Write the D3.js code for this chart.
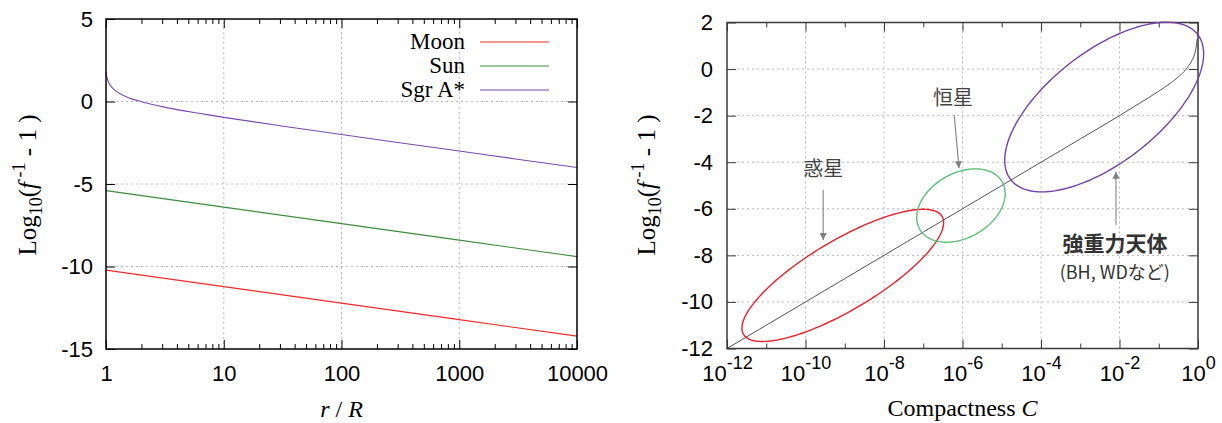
<!DOCTYPE html>
<html>
<head>
<meta charset="utf-8">
<script src="https://d3js.org/d3.v7.min.js"></script>
<style>
  body { margin: 0; background: #fff; }
  svg { display: block; }
</style>
</head>
<body>
<script>
// left panel : log10(f^-1 - 1) vs r/R
const moonR = [1, 10, 100, 1000, 10000];
const moonVal = [-10.22, -11.22, -12.22, -13.22, -14.22];
const sunR = [1, 10, 100, 1000, 10000];
const sunVal = [-5.4, -6.4, -7.4, -8.4, -9.4];
const sgrR = [1, 1.01, 1.02, 1.05, 1.1, 1.2, 1.5, 2, 3, 5, 10, 30, 100, 300, 1000, 3000, 10000];
const sgrVal = [1.8, 1.57, 1.44, 1.17, 0.93, 0.66, 0.28, -0.01, -0.31, -0.61, -0.96, -1.47, -2.0, -2.48, -3.0, -3.48, -4.0];
const seriesNames = ['Moon', 'Sun', 'Sgr A*'];
const leftYTicks = [5, 0, -5, -10, -15];
const leftXTicks = [1, 10, 100, 1000, 10000];

// right panel : log10(f^-1 - 1) vs compactness
const compactness = [1e-12, 1e-11, 1e-10, 1e-9, 1e-8, 1e-7, 1e-6, 1e-5, 1e-4, 1e-3, 1e-2, 0.03, 0.1, 0.2, 0.3, 0.5, 0.7, 0.8, 0.9, 0.95];
const compactVal = [-12, -11, -10, -9, -8, -7, -6, -5, -4, -3, -2, -1.5, -0.95, -0.6, -0.37, 0, 0.37, 0.6, 0.95, 1.28];
const rightYTicks = [2, 0, -2, -4, -6, -8, -10, -12];
const rightXExp = [-12, -10, -8, -6, -4, -2, 0];
const groupNames = ['惑星', '恒星', '強重力天体'];
const groupCenterLogC = [-9.05, -6.04, -2.39];
const groupCenterVal = [-8.86, -5.86, -1.63];
const groupMajor = [[2.53, 2.53], [1.05, 1.02], [2.38, 3.12]];
const groupMinor = [[-0.45, 1.29], [-0.41, 1.20], [-0.87, 1.88]];

const W = 1222, H = 423;
const sans = '"Liberation Sans", Arial, Helvetica, sans-serif';
const serif = '"Liberation Serif", "Times New Roman", serif';
const cjk = '"Noto Sans CJK JP", "Noto Sans", sans-serif';

const svg = d3.select('body').append('svg').attr('width', W).attr('height', H);
svg.append('rect').attr('width', W).attr('height', H).attr('fill', '#fff');

const defs = svg.append('defs');
defs.append('marker')
  .attr('id', 'arr')
  .attr('viewBox', '0 0 10 10')
  .attr('refX', 10).attr('refY', 5)
  .attr('markerWidth', 9).attr('markerHeight', 7)
  .attr('markerUnits', 'userSpaceOnUse')
  .attr('orient', 'auto')
  .append('path').attr('d', 'M0,0 L10,5 L0,10 Z').attr('fill', '#808080');

function minorLog(lo, hi) {
  const out = [];
  for (let e = lo; e < hi; e++) for (let k = 2; k <= 9; k++) out.push(k * Math.pow(10, e));
  return out;
}

function yLabel(g, x, y) {
  const t = g.append('text')
    .attr('transform', `translate(${x},${y}) rotate(-90)`)
    .attr('text-anchor', 'middle')
    .attr('font-family', serif).attr('font-size', 25).attr('fill', '#000');
  t.append('tspan').text('Log');
  t.append('tspan').attr('font-size', 18).attr('dy', 6).text('10');
  t.append('tspan').attr('dy', -6).text('(');
  t.append('tspan').attr('font-style', 'italic').text('f');
  t.append('tspan').attr('font-size', 18).attr('dy', -11).text(' -1');
  t.append('tspan').attr('dy', 11).text(' - 1 )');
}

function styleAxis(g, color) {
  g.select('.domain').remove();
  g.attr('font-family', sans).attr('font-size', 22).attr('color', color);
  g.selectAll('.tick line').attr('stroke-width', 1);
  g.selectAll('.tick text').attr('fill', '#000');
}

// ---------------- left panel ----------------
const xL = d3.scaleLog().domain([1, 10000]).range([106, 577]);
const yL = d3.scaleLinear().domain([-15, 5]).range([349, 19]);
const left = svg.append('g');

left.append('g').selectAll('line')
  .data(leftXTicks.slice(1, -1)).join('line')
  .attr('x1', d => xL(d)).attr('x2', d => xL(d))
  .attr('y1', yL(-15)).attr('y2', yL(5));
left.append('g').selectAll('line')
  .data(leftYTicks.slice(1, -1)).join('line')
  .attr('x1', xL(1)).attr('x2', xL(10000))
  .attr('y1', d => yL(d)).attr('y2', d => yL(d));
left.selectAll('line').attr('stroke', '#b8b8b8').attr('stroke-dasharray', '2,3');

left.append('g').attr('transform', `translate(0,${yL(-15)})`)
  .call(d3.axisBottom(xL).tickValues(leftXTicks).tickFormat(d => String(d)).tickSizeInner(-9).tickSizeOuter(0).tickPadding(16))
  .call(g => styleAxis(g, '#000'));
left.append('g').attr('transform', `translate(0,${yL(-15)})`)
  .call(d3.axisBottom(xL).tickValues(minorLog(0, 4)).tickFormat('').tickSizeInner(-5).tickSizeOuter(0))
  .call(g => styleAxis(g, '#000'));
left.append('g').attr('transform', `translate(0,${yL(5)})`)
  .call(d3.axisTop(xL).tickValues(leftXTicks).tickFormat('').tickSizeInner(-9).tickSizeOuter(0))
  .call(g => styleAxis(g, '#000'));
left.append('g').attr('transform', `translate(0,${yL(5)})`)
  .call(d3.axisTop(xL).tickValues(minorLog(0, 4)).tickFormat('').tickSizeInner(-5).tickSizeOuter(0))
  .call(g => styleAxis(g, '#000'));
left.append('g').attr('transform', `translate(${xL(1)},0)`)
  .call(d3.axisLeft(yL).tickValues(leftYTicks).tickFormat(d => String(d)).tickSizeInner(-9).tickSizeOuter(0).tickPadding(13))
  .call(g => styleAxis(g, '#000'));
left.append('g').attr('transform', `translate(${xL(10000)},0)`)
  .call(d3.axisRight(yL).tickValues(leftYTicks).tickFormat('').tickSizeInner(-9).tickSizeOuter(0))
  .call(g => styleAxis(g, '#000'));

const leftSeries = [
  { name: seriesNames[0], xs: moonR, ys: moonVal, color: '#ee2a2a' },
  { name: seriesNames[1], xs: sunR, ys: sunVal, color: '#3e8c3e' },
  { name: seriesNames[2], xs: sgrR, ys: sgrVal, color: '#7b48b0' }
];
const lineL = d3.line().x(d => xL(d[0])).y(d => yL(d[1])).curve(d3.curveMonotoneX);
left.append('g').selectAll('path')
  .data(leftSeries).join('path')
  .attr('d', s => lineL(s.xs.map((x, i) => [x, s.ys[i]])))
  .attr('fill', 'none').attr('stroke', s => s.color).attr('stroke-width', 1.1);

left.append('rect')
  .attr('x', xL(1)).attr('y', yL(5))
  .attr('width', xL(10000) - xL(1)).attr('height', yL(-15) - yL(5))
  .attr('fill', 'none').attr('stroke', '#000').attr('stroke-width', 1.5);

const legend = left.append('g').selectAll('g')
  .data(leftSeries).join('g')
  .attr('transform', (d, i) => `translate(0,${42 + i * 24})`);
legend.append('text')
  .attr('x', 465).attr('y', 7).attr('text-anchor', 'end')
  .attr('font-family', serif).attr('font-size', 23).attr('fill', '#000')
  .text(d => d.name);
legend.append('line')
  .attr('x1', 480).attr('x2', 549).attr('y1', 0).attr('y2', 0)
  .attr('stroke', d => d.color).attr('stroke-width', 1.1);

yLabel(left, 36, 185);
const xlabL = left.append('text')
  .attr('x', (xL(1) + xL(10000)) / 2).attr('y', 417).attr('text-anchor', 'middle')
  .attr('font-family', serif).attr('font-size', 24).attr('fill', '#000');
xlabL.append('tspan').attr('font-style', 'italic').text('r');
xlabL.append('tspan').text(' / ');
xlabL.append('tspan').attr('font-style', 'italic').text('R');

// ---------------- right panel ----------------
const xR = d3.scaleLog().domain([1e-12, 1]).range([727, 1198]);
const yR = d3.scaleLinear().domain([-12, 2]).range([348.5, 22.5]);
const right = svg.append('g');
const frameR = '#3a3a3a';
const decade = e => +`1e${e}`;

const gridR = right.append('g');
gridR.selectAll('line.gx')
  .data(rightXExp.slice(1, -1)).join('line').attr('class', 'gx')
  .attr('x1', d => xR(decade(d))).attr('x2', d => xR(decade(d)))
  .attr('y1', yR(-12)).attr('y2', yR(2));
gridR.selectAll('line.gy')
  .data(rightYTicks.slice(1, -1)).join('line').attr('class', 'gy')
  .attr('x1', xR(1e-12)).attr('x2', xR(1))
  .attr('y1', d => yR(d)).attr('y2', d => yR(d));
gridR.selectAll('line').attr('stroke', '#b8b8b8').attr('stroke-dasharray', '2,3');

const oddDecades = d3.range(-11, 0, 2).map(decade);

const xAxisR = right.append('g').attr('transform', `translate(0,${yR(-12)})`)
  .call(d3.axisBottom(xR).tickValues(rightXExp.map(decade)).tickFormat(() => '').tickSizeInner(-9).tickSizeOuter(0).tickPadding(17))
  .call(g => styleAxis(g, frameR));
xAxisR.selectAll('.tick text').each(function (d) {
  const t = d3.select(this);
  t.append('tspan').text('10');
  t.append('tspan').attr('font-size', 18).attr('dy', -12).text(Math.round(Math.log10(d)));
});
right.append('g').attr('transform', `translate(0,${yR(-12)})`)
  .call(d3.axisBottom(xR).tickValues(oddDecades).tickFormat('').tickSizeInner(-5).tickSizeOuter(0))
  .call(g => styleAxis(g, frameR));
right.append('g').attr('transform', `translate(0,${yR(2)})`)
  .call(d3.axisTop(xR).tickValues(rightXExp.map(decade)).tickFormat('').tickSizeInner(-9).tickSizeOuter(0))
  .call(g => styleAxis(g, frameR));
right.append('g').attr('transform', `translate(0,${yR(2)})`)
  .call(d3.axisTop(xR).tickValues(oddDecades).tickFormat('').tickSizeInner(-5).tickSizeOuter(0))
  .call(g => styleAxis(g, frameR));
right.append('g').attr('transform', `translate(${xR(1e-12)},0)`)
  .call(d3.axisLeft(yR).tickValues(rightYTicks).tickFormat(d => String(d)).tickSizeInner(-9).tickSizeOuter(0).tickPadding(14))
  .call(g => styleAxis(g, frameR));
right.append('g').attr('transform', `translate(${xR(1)},0)`)
  .call(d3.axisRight(yR).tickValues(rightYTicks).tickFormat('').tickSizeInner(-9).tickSizeOuter(0))
  .call(g => styleAxis(g, frameR));

const lineR = d3.line().x(d => xR(d[0])).y(d => yR(d[1])).curve(d3.curveMonotoneX);
right.append('path')
  .attr('d', lineR(compactness.map((c, i) => [c, compactVal[i]])))
  .attr('fill', 'none').attr('stroke', '#555').attr('stroke-width', 1);

right.append('rect')
  .attr('x', xR(1e-12)).attr('y', yR(2))
  .attr('width', xR(1) - xR(1e-12)).attr('height', yR(-12) - yR(2))
  .attr('fill', 'none').attr('stroke', frameR).attr('stroke-width', 1.5);

// ellipses, built in data space (log10 C, value)
const ellColors = ['#e8202a', '#5fbf77', '#7442a8'];
const ellipse = i => {
  const pts = d3.range(0, 2 * Math.PI + 0.001, Math.PI / 90).map(t => {
    const lc = groupCenterLogC[i] + groupMajor[i][0] * Math.cos(t) + groupMinor[i][0] * Math.sin(t);
    const v = groupCenterVal[i] + groupMajor[i][1] * Math.cos(t) + groupMinor[i][1] * Math.sin(t);
    return [xR(Math.pow(10, lc)), yR(v)];
  });
  return d3.line()(pts) + 'Z';
};
right.append('g').selectAll('path')
  .data(groupNames).join('path')
  .attr('d', (d, i) => ellipse(i))
  .attr('fill', 'none').attr('stroke', (d, i) => ellColors[i]).attr('stroke-width', 1.4);

// annotations (positions in data coords)
const pt = (lc, v) => [xR(Math.pow(10, lc)), yR(v)];
const arrows = [
  [pt(-9.55, -5.19), pt(-9.55, -7.34)],
  [pt(-6.21, -1.98), pt(-6.09, -4.26)],
  [pt(-2.09, -6.69), pt(-2.09, -4.41)]
];
right.append('g').selectAll('line')
  .data(arrows).join('line')
  .attr('x1', d => d[0][0]).attr('y1', d => d[0][1])
  .attr('x2', d => d[1][0]).attr('y2', d => d[1][1])
  .attr('stroke', '#808080').attr('stroke-width', 1.1)
  .attr('marker-end', 'url(#arr)');

const notes = [
  { text: groupNames[0], at: pt(-9.55, -4.29), size: 20, weight: 400, color: '#444' },
  { text: groupNames[1], at: pt(-6.24, -1.23), size: 20, weight: 400, color: '#444' },
  { text: groupNames[2], at: pt(-2.115, -7.50), size: 21, weight: 700, color: '#333' },
  { text: '(BH, WDなど)', at: pt(-2.12, -8.75), size: 18, weight: 400, color: '#333' }
];
right.append('g').selectAll('text')
  .data(notes).join('text')
  .attr('x', d => d.at[0]).attr('y', d => d.at[1])
  .attr('dy', '0.36em').attr('text-anchor', 'middle')
  .attr('font-family', cjk).attr('font-size', d => d.size)
  .attr('font-weight', d => d.weight).attr('fill', d => d.color)
  .text(d => d.text);

yLabel(right, 655, 185);
const xlabR = right.append('text')
  .attr('x', (xR(1e-12) + xR(1)) / 2).attr('y', 416).attr('text-anchor', 'middle')
  .attr('font-family', serif).attr('font-size', 24).attr('fill', '#000');
xlabR.append('tspan').text('Compactness ');
xlabR.append('tspan').attr('font-style', 'italic').text('C');
</script>
</body>
</html>
